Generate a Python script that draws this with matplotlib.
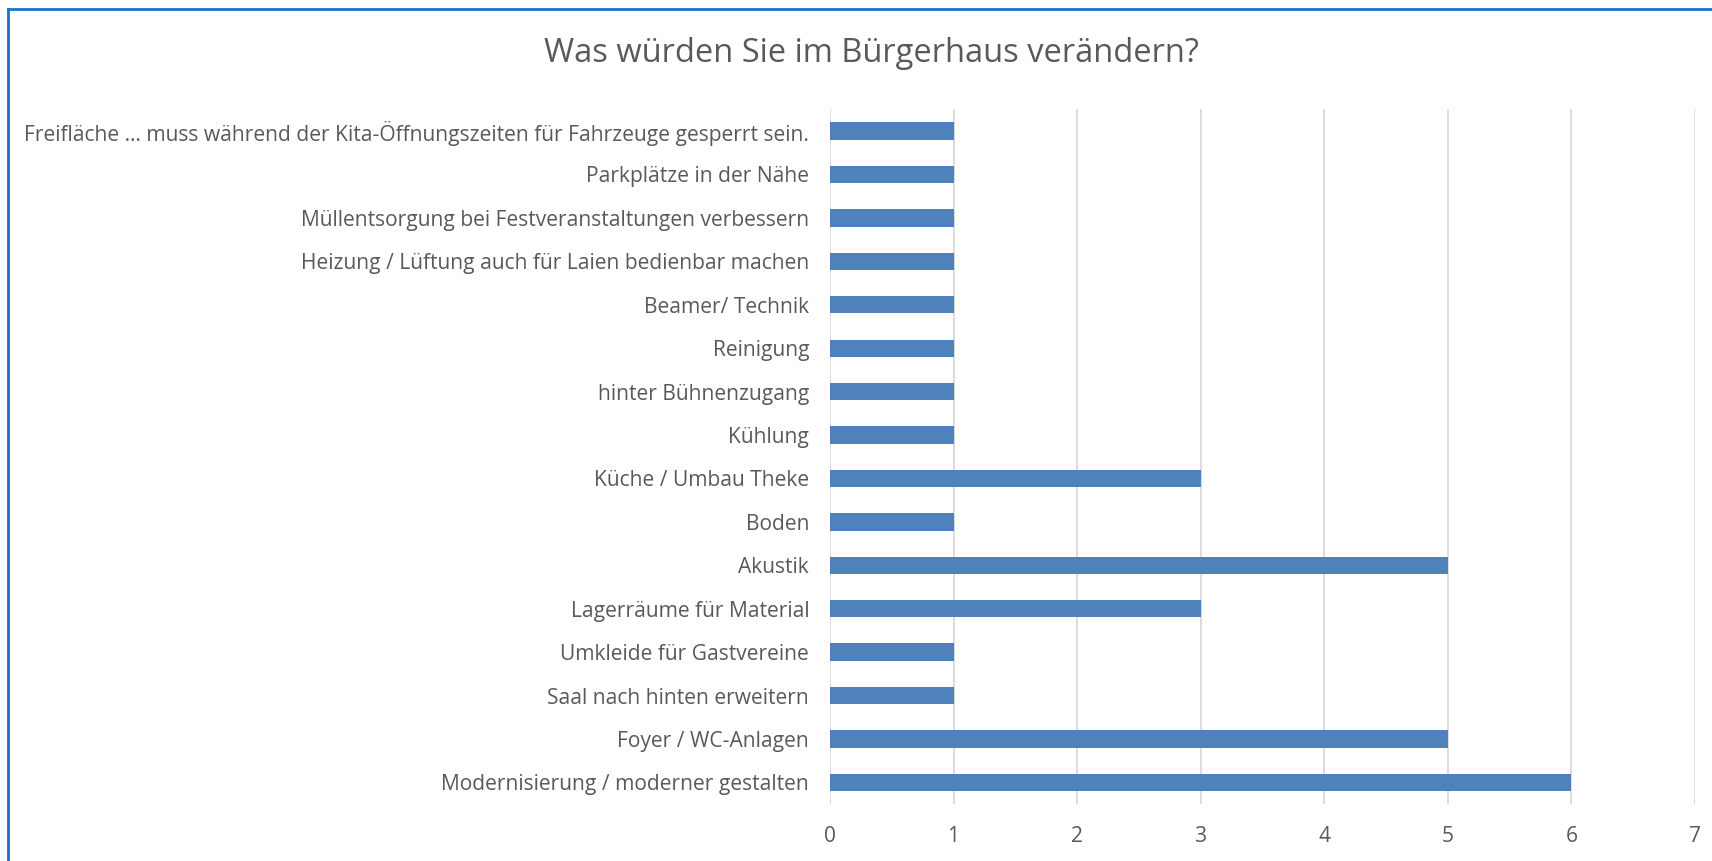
import matplotlib.pyplot as plt
from matplotlib.lines import Line2D

# Kategorien von unten nach oben
kategorien = [
    "Modernisierung / moderner gestalten",
    "Foyer / WC-Anlagen",
    "Saal nach hinten erweitern",
    "Umkleide für Gastvereine",
    "Lagerräume für Material",
    "Akustik",
    "Boden",
    "Küche / Umbau Theke",
    "Kühlung",
    "hinter Bühnenzugang",
    "Reinigung",
    "Beamer/ Technik",
    "Heizung / Lüftung auch für Laien bedienbar machen",
    "Müllentsorgung bei Festveranstaltungen verbessern",
    "Parkplätze in der Nähe",
    "Freifläche … muss während der Kita-Öffnungszeiten für Fahrzeuge gesperrt sein.",
]
anzahl = [6, 5, 1, 1, 3, 5, 1, 3, 1, 1, 1, 1, 1, 1, 1, 1]
x_ticks = [0, 1, 2, 3, 4, 5, 6, 7]

plt.rcParams['font.family'] = ['Open Sans', 'DejaVu Sans']
text_farbe = '#595959'

fig = plt.figure(figsize=(17.12, 8.61), dpi=100)
ax = fig.add_axes([0.4848, 0.066, 0.5052, 0.807])

ax.barh(range(len(kategorien)), anzahl, height=0.4, color='#4F81BD', zorder=3)

ax.set_xlim(0, 7)
ax.set_ylim(-0.5, len(kategorien) - 0.5)
ax.set_xticks(x_ticks)
ax.set_yticks(range(len(kategorien)))
ax.set_yticklabels(kategorien)
ax.tick_params(axis='both', length=0, colors=text_farbe, labelsize=15.1)
ax.tick_params(axis='y', pad=15)
ax.tick_params(axis='x', pad=16)
ax.grid(axis='x', color='#D9D9D9', linewidth=1.3, zorder=0)
for s in ax.spines.values():
    s.set_visible(False)

fig.text(0.509, 0.938, "Was würden Sie im Bürgerhaus verändern?", ha='center', va='center',
         fontsize=23.5, color=text_farbe)

# Rahmen oben und links
fig.add_artist(Line2D([0.0047, 1.0], [0.9895, 0.9895], transform=fig.transFigure,
                      color='#1A72C4', linewidth=2))
fig.add_artist(Line2D([0.0047, 0.0047], [0.0, 0.9895], transform=fig.transFigure,
                      color='#1A72C4', linewidth=2))

fig.savefig('out.png', dpi=100)
